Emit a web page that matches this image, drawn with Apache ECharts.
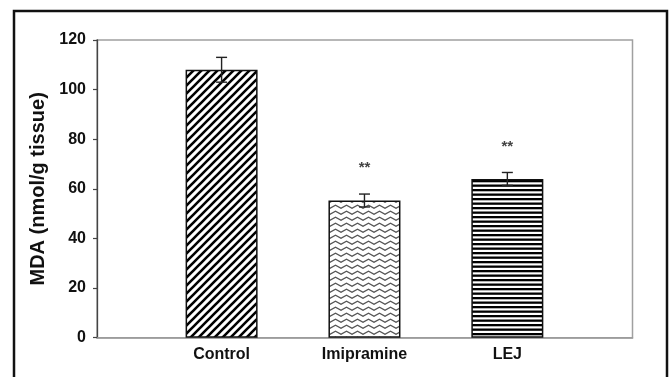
<!DOCTYPE html>
<html>
<head>
<meta charset="utf-8">
<script src="https://cdn.jsdelivr.net/npm/echarts@6/dist/echarts.min.js"></script>
<style>
  html, body { margin: 0; padding: 0; background: #fff; }
  #chart { width: 669px; height: 377px; }
</style>
</head>
<body>
<div id="chart"></div>
<script>
// Groups on the x axis
const categories = ['Control', 'Imipramine', 'LEJ'];
// Mean MDA level per group (nmol/g tissue)
const mdaMean = [108, 55.3, 64];
// Error bar half-length per group
const mdaError = [5, 2.6, 2.6];
// Significance marks above the bars
const significance = ['', '**', '**'];
// Value axis range and step
const yMin = 0;
const yMax = 120;
const yStep = 20;

// Hatch fills for the bars, built as small repeating canvases
function makeCanvas(w, h, draw) {
  const c = document.createElement('canvas');
  c.width = w; c.height = h;
  const ctx = c.getContext('2d');
  ctx.fillStyle = '#fff';
  ctx.fillRect(0, 0, w, h);
  draw(ctx);
  return c;
}
const diagonalHatch = makeCanvas(8, 8, ctx => {
  ctx.strokeStyle = '#000';
  ctx.lineWidth = 2.6;
  ctx.beginPath();
  ctx.moveTo(-2, 2); ctx.lineTo(2, -2);
  ctx.moveTo(0, 8); ctx.lineTo(8, 0);
  ctx.moveTo(6, 10); ctx.lineTo(10, 6);
  ctx.stroke();
});
const zigzagHatch = makeCanvas(11, 6, ctx => {
  ctx.strokeStyle = '#555';
  ctx.lineWidth = 1.3;
  ctx.beginPath();
  ctx.moveTo(-0.5, 4.5); ctx.lineTo(5.5, 1.2); ctx.lineTo(11.5, 4.5);
  ctx.stroke();
});
const stripeHatch = makeCanvas(4, 9, ctx => {
  ctx.fillStyle = '#000';
  ctx.fillRect(0, 0, 4, 2.3);
  ctx.fillRect(0, 4.5, 4, 2.3);
});
const fills = [diagonalHatch, zigzagHatch, stripeHatch];

const barData = categories.map((name, i) => ({
  name: name,
  value: [i, mdaMean[i]],
  itemStyle: {
    color: { image: fills[i], repeat: 'repeat' },
    borderColor: '#111',
    borderWidth: 1.5
  }
}));
// [x position, mean, lower end, upper end]
const errorData = categories.map((name, i) => [i, mdaMean[i], mdaMean[i] - mdaError[i], mdaMean[i] + mdaError[i]]);

const labelFont = 'Liberation Sans, Arial, sans-serif';

const chart = echarts.init(document.getElementById('chart'), null, { renderer: 'canvas' });
chart.setOption({
  backgroundColor: '#fff',
  animation: false,
  graphic: [{
    type: 'rect',
    shape: { x: 14, y: 11, width: 653, height: 380 },
    style: { fill: 'none', stroke: '#111', lineWidth: 2.5 },
    silent: true,
    z: 0
  }],
  grid: {
    left: 97, right: 36.5, top: 40, bottom: 39.3,
    show: true,
    borderColor: '#a0a0a0',
    borderWidth: 1.5,
    backgroundColor: 'transparent'
  },
  xAxis: {
    type: 'value',
    min: -0.872,
    max: 2.876,
    splitLine: { show: false },
    axisTick: { show: false },
    axisLine: { show: true, onZero: false, lineStyle: { color: '#9a9a9a', width: 1.5 } },
    axisLabel: {
      customValues: [0, 1, 2],
      formatter: v => categories[Math.round(v)] || '',
      color: '#111',
      fontFamily: labelFont,
      fontWeight: 'bold',
      fontSize: 16,
      margin: 9
    }
  },
  yAxis: {
    type: 'value',
    min: yMin,
    max: yMax,
    interval: yStep,
    name: 'MDA (nmol/g tissue)',
    nameLocation: 'middle',
    nameGap: 49,
    nameTextStyle: {
      color: '#111',
      fontFamily: labelFont,
      fontWeight: 'bold',
      fontSize: 20
    },
    splitLine: { show: false },
    axisLine: { show: true, onZero: false, lineStyle: { color: '#444', width: 1.3 } },
    axisTick: { show: true, inside: false, length: 4, lineStyle: { color: '#444', width: 1.2 } },
    axisLabel: {
      color: '#111',
      fontFamily: labelFont,
      fontWeight: 'bold',
      fontSize: 16,
      margin: 11
    }
  },
  series: [
    {
      type: 'bar',
      barWidth: 72,
      data: barData,
      z: 2
    },
    {
      type: 'custom',
      z: 5,
      encode: { x: 0, y: [1, 2, 3] },
      data: errorData,
      renderItem: function (params, api) {
        const x = api.value(0);
        const low = api.value(2);
        const high = api.value(3);
        const mark = significance[params.dataIndex];
        const top = api.coord([x, high]);
        const bottom = api.coord([x, low]);
        const cap = 5.5;
        const style = { stroke: '#222', lineWidth: 1.4 };
        const children = [
          { type: 'line', shape: { x1: top[0], y1: top[1], x2: bottom[0], y2: bottom[1] }, style: style },
          { type: 'line', shape: { x1: top[0] - cap, y1: top[1], x2: top[0] + cap, y2: top[1] }, style: style },
          { type: 'line', shape: { x1: bottom[0] - cap, y1: bottom[1], x2: bottom[0] + cap, y2: bottom[1] }, style: style }
        ];
        if (mark) {
          children.push({
            type: 'text',
            x: top[0],
            y: top[1] - 26,
            style: {
              text: mark,
              fill: '#444',
              font: 'bold 15px "Liberation Sans", Arial, sans-serif',
              align: 'center',
              verticalAlign: 'middle'
            }
          });
        }
        return { type: 'group', children: children };
      }
    }
  ]
});
</script>
</body>
</html>
